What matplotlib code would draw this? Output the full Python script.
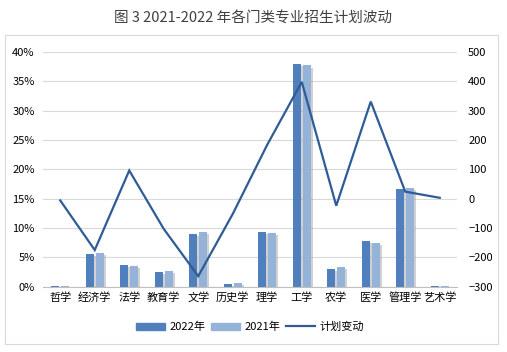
import numpy as np
import matplotlib
matplotlib.use("Agg")
import matplotlib.pyplot as plt
from matplotlib.patches import Rectangle, Patch
from matplotlib.lines import Line2D
import matplotlib.patheffects as pe

plt.rcParams['font.family'] = ['Noto Sans CJK SC', 'DejaVu Sans']

# data
categories = ['哲学', '经济学', '法学', '教育学', '文学', '历史学', '理学',
              '工学', '农学', '医学', '管理学', '艺术学']
share_2022 = [0.17, 5.6, 3.7, 2.5, 9.0, 0.45, 9.3, 38.0, 3.1, 7.8, 16.7, 0.12]
share_2021 = [0.17, 5.75, 3.5, 2.7, 9.3, 0.6, 9.15, 37.7, 3.3, 7.45, 16.85, 0.12]
plan_change = [-6, -175, 96, -103, -264, -52, 184, 398, -24, 331, 24, 3]

left_ticks = [0, 5, 10, 15, 20, 25, 30, 35, 40]
right_ticks = [-300, -200, -100, 0, 100, 200, 300, 400, 500]

colour_2022 = '#4f7fbc'
colour_2021 = '#95b3d9'
colour_line = '#2f5b96'
grid_colour = '#d9d9d9'
text_colour = '#404040'
fontSize = 8

fig = plt.figure(figsize=(5.07, 3.52), dpi=100)
fig.patches.append(Rectangle((5 / 507, 1 - 344 / 352), 493 / 507, 309 / 352,
                             transform=fig.transFigure, fill=False,
                             edgecolor='#d9d9d9', linewidth=0.8))

ax1 = fig.add_axes([43 / 507, 1 - 286.7 / 352, 414 / 507, 234.7 / 352])
ax2 = ax1.twinx()

x = np.arange(len(categories))
width = 0.23
shadow = [pe.SimplePatchShadow(offset=(1.5, -1.5), shadow_rgbFace='#999999', alpha=0.45), pe.Normal()]
ax1.bar(x - 0.145, share_2022, width, color=colour_2022, zorder=2, path_effects=shadow)
ax1.bar(x + 0.145, share_2021, width, color=colour_2021, zorder=2, path_effects=shadow)

ax2.plot(x, plan_change, color=colour_line, linewidth=1.6, solid_joinstyle='miter')

ax1.set_xlim(-0.5, len(categories) - 0.5)
ax1.set_ylim(0, 40)
ax1.set_yticks(left_ticks)
ax1.set_yticklabels([f'{v}%' for v in left_ticks])
ax2.set_ylim(-300, 500)
ax2.set_yticks(right_ticks)
ax1.set_xticks(x)
ax1.set_xticklabels(categories)

ax1.grid(axis='y', color=grid_colour, linewidth=0.8, zorder=0)
ax1.set_axisbelow(True)
for ax in (ax1, ax2):
    for s in ax.spines.values():
        s.set_visible(False)
    ax.tick_params(length=0, labelsize=fontSize, colors='black')
ax1.spines['bottom'].set_visible(True)
ax1.spines['bottom'].set_color('#bfbfbf')
ax1.tick_params(axis='y', pad=6)
ax1.tick_params(axis='x', pad=4)
ax2.tick_params(axis='y', pad=8)

fig.text(0.5, 1 - 18 / 352, '图 3 2021-2022 年各门类专业招生计划波动',
         ha='center', va='center', fontsize=10.5, color=text_colour)

handles = [Patch(color=colour_2022), Patch(color=colour_2021),
           Line2D([0], [0], color=colour_line, linewidth=1.6)]
fig.legend(handles, ['2022年', '2021年', '计划变动'], loc='center',
           bbox_to_anchor=(250 / 507, 1 - 327 / 352), ncol=3, frameon=False,
           fontsize=fontSize, handlelength=2.6, handleheight=0.6,
           columnspacing=0.5, handletextpad=0.4)

plt.savefig('out.png', dpi=100)
